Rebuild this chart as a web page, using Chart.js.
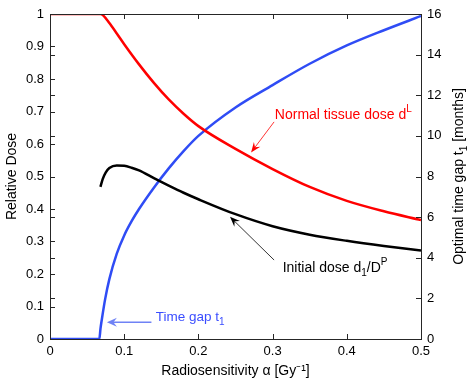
<!DOCTYPE html>
<html>
<head>
<meta charset="utf-8">
<script src="https://cdn.jsdelivr.net/npm/chart.js@4.4.1/dist/chart.umd.min.js"></script>
<style>
  html, body { margin: 0; padding: 0; background: #fff; }
  #wrap { width: 472px; height: 382px; }
</style>
</head>
<body>
<div id="wrap"><canvas id="c" width="472" height="382"></canvas></div>
<script>
// ---- data ----
const xTicks = [0, 0.1, 0.2, 0.3, 0.4, 0.5];
const leftTicks = [0, 0.1, 0.2, 0.3, 0.4, 0.5, 0.6, 0.7, 0.8, 0.9, 1];
const rightTicks = [0, 2, 4, 6, 8, 10, 12, 14, 16];

const normalAlpha = [0, 0.068, 0.072, 0.08, 0.09, 0.1, 0.12, 0.14, 0.16, 0.18, 0.2, 0.25, 0.3, 0.35, 0.4, 0.45, 0.5];
const normalDose  = [1, 1, 0.995, 0.972, 0.94, 0.907, 0.845, 0.788, 0.737, 0.693, 0.655, 0.585, 0.523, 0.468, 0.425, 0.393, 0.366];

const initAlpha = [0.068, 0.071, 0.075, 0.08, 0.09, 0.1, 0.11, 0.12, 0.14, 0.16, 0.18, 0.2, 0.25, 0.3, 0.35, 0.4, 0.45, 0.5];
const initDose  = [0.468, 0.492, 0.512, 0.526, 0.534, 0.533, 0.527, 0.519, 0.495, 0.472, 0.450, 0.430, 0.384, 0.347, 0.321, 0.302, 0.286, 0.272];

const gapAlpha  = [0, 0.0665, 0.068, 0.070, 0.0745, 0.08, 0.09, 0.1, 0.11, 0.12, 0.14, 0.16, 0.18, 0.2, 0.25, 0.3, 0.35, 0.4, 0.45, 0.5];
const gapMonths = [0, 0, 0.5, 1.0, 2.0, 2.95, 4.2, 5.1, 5.8, 6.4, 7.45, 8.4, 9.25, 10.0, 11.4, 12.5, 13.55, 14.45, 15.2, 15.9];

const pts = (xs, ys) => xs.map((x, i) => ({ x: x, y: ys[i] }));

const FONT = "'Liberation Sans', Arial, Helvetica, sans-serif";
const AXIS_COLOR = '#262626';
const TICK_SIZE = 13, TITLE_SIZE = 14;

// inward ticks, top border, right title, annotations
const decor = {
  id: 'decor',
  afterDatasetsDraw(chart) {
    const ctx = chart.ctx;
    const a = chart.chartArea;
    const sx = chart.scales.x, sy = chart.scales.y, sy1 = chart.scales.y1;
    ctx.save();
    ctx.strokeStyle = AXIS_COLOR;
    ctx.lineWidth = 1;
    ctx.beginPath();
    ctx.moveTo(a.left, a.top + 0.5); ctx.lineTo(a.right, a.top + 0.5);
    ctx.stroke();
    const TL = 5;
    ctx.beginPath();
    xTicks.forEach(v => {
      const px = Math.round(sx.getPixelForValue(v)) + 0.5;
      ctx.moveTo(px, a.bottom); ctx.lineTo(px, a.bottom - TL);
      ctx.moveTo(px, a.top); ctx.lineTo(px, a.top + TL);
    });
    leftTicks.forEach(v => {
      const py = Math.round(sy.getPixelForValue(v)) + 0.5;
      ctx.moveTo(a.left, py); ctx.lineTo(a.left + TL, py);
    });
    rightTicks.forEach(v => {
      const py = Math.round(sy1.getPixelForValue(v)) + 0.5;
      ctx.moveTo(a.right, py); ctx.lineTo(a.right - TL, py);
      ctx.moveTo(a.left, py); ctx.lineTo(a.left + TL, py);
    });
    ctx.stroke();

    // right axis title, rotated to read bottom-to-top
    ctx.fillStyle = '#000';
    ctx.translate(459, (a.top + a.bottom) / 2);
    ctx.rotate(-Math.PI / 2);
    drawRich(ctx, [['Optimal time gap t', 0], ['1', 1], [' [months]', 0]], 0, 0, TITLE_SIZE, 'center');
    ctx.restore();

    // annotations
    ctx.save();
    const X = v => sx.getPixelForValue(v), Y = v => sy.getPixelForValue(v);
    ctx.fillStyle = '#ff0000';
    drawRich(ctx, [['Normal tissue dose d', 0], ['L', -1]], X(0.303), Y(0.688), 14, 'left');
    arrow(ctx, X(0.302), Y(0.668), X(0.271), Y(0.574), '#ff0000', 0.8, 10, 4);
    ctx.fillStyle = '#000';
    drawRich(ctx, [['Initial dose d', 0], ['1', 1], ['/D', 0], ['P', -1]], X(0.3136), Y(0.218), 14, 'left');
    arrow(ctx, X(0.302), Y(0.243), X(0.2426), Y(0.376), '#000', 0.8, 10, 4);
    ctx.fillStyle = '#3a4dff';
    drawRich(ctx, [['Time gap t', 0], ['1', 1]], X(0.1425), Y(0.0677), 13.5, 'left');
    arrow(ctx, X(0.1367), Y(0.0514), X(0.0767), Y(0.0514), '#6f82f5', 1.5, 10, 4.5);
    ctx.restore();
  }
};

function drawRich(ctx, parts, x, y, size, align) {
  const big = size + 'px ' + FONT, small = Math.round(size * 0.72) + 'px ' + FONT;
  let w = 0;
  parts.forEach(p => { ctx.font = p[1] ? small : big; w += ctx.measureText(p[0]).width; });
  let cx = align === 'center' ? x - w / 2 : x;
  ctx.textBaseline = 'middle';
  ctx.textAlign = 'left';
  parts.forEach(p => {
    ctx.font = p[1] ? small : big;
    const dy = p[1] === 1 ? size * 0.38 : (p[1] === -1 ? -size * 0.42 : 0);
    ctx.fillText(p[0], cx, y + dy);
    cx += ctx.measureText(p[0]).width;
  });
}

function arrow(ctx, x0, y0, x1, y1, color, lw, hl, hw) {
  const ang = Math.atan2(y1 - y0, x1 - x0);
  const c = Math.cos(ang), s = Math.sin(ang);
  ctx.strokeStyle = color; ctx.fillStyle = color; ctx.lineWidth = lw;
  ctx.beginPath();
  ctx.moveTo(x0, y0);
  ctx.lineTo(x1 - c * hl * 0.6, y1 - s * hl * 0.6);
  ctx.stroke();
  const bx = x1 - c * hl, by = y1 - s * hl;
  const nx = x1 - c * hl * 0.65, ny = y1 - s * hl * 0.65;
  ctx.beginPath();
  ctx.moveTo(x1, y1);
  ctx.lineTo(bx - s * hw, by + c * hw);
  ctx.lineTo(nx, ny);
  ctx.lineTo(bx + s * hw, by - c * hw);
  ctx.closePath();
  ctx.fill();
}

new Chart(document.getElementById('c'), {
  type: 'line',
  data: {
    datasets: [
      { label: 'Normal tissue dose', data: pts(normalAlpha, normalDose), yAxisID: 'y',
        borderColor: '#ff0000', borderWidth: 2.5, pointRadius: 0, cubicInterpolationMode: 'monotone', fill: false },
      { label: 'Initial dose', data: pts(initAlpha, initDose), yAxisID: 'y',
        borderColor: '#000000', borderWidth: 2.5, pointRadius: 0, cubicInterpolationMode: 'monotone', fill: false },
      { label: 'Time gap', data: pts(gapAlpha, gapMonths), yAxisID: 'y1',
        borderColor: '#2f4cf5', borderWidth: 2.5, pointRadius: 0, cubicInterpolationMode: 'monotone', fill: false }
    ]
  },
  options: {
    responsive: false,
    animation: false,
    devicePixelRatio: 1,
    layout: { padding: { top: 14, left: 0, right: 0, bottom: 0 } },
    plugins: { legend: { display: false }, tooltip: { enabled: false } },
    scales: {
      x: {
        type: 'linear', min: 0, max: 0.5,
        afterBuildTicks: s => { s.ticks = xTicks.map(v => ({ value: v })); },
        afterFit: s => { s.height = 43; },
        grid: { display: false, drawTicks: false },
        border: { display: true, color: AXIS_COLOR, width: 1 },
        ticks: { color: '#000', padding: 5, font: { family: FONT, size: TICK_SIZE }, maxRotation: 0,
                 callback: v => String(v) },
        title: { display: true, text: 'Radiosensitivity α [Gy⁻¹]', color: '#000',
                 font: { family: FONT, size: TITLE_SIZE }, padding: { top: 0, bottom: 2 } }
      },
      y: {
        type: 'linear', position: 'left', min: 0, max: 1,
        afterBuildTicks: s => { s.ticks = leftTicks.map(v => ({ value: v })); },
        afterFit: s => { s.width = 50; },
        grid: { display: false, drawTicks: false },
        border: { display: true, color: AXIS_COLOR, width: 1 },
        ticks: { color: '#000', padding: 6, font: { family: FONT, size: TICK_SIZE }, callback: v => String(v) },
        title: { display: true, text: 'Relative Dose', color: '#000',
                 font: { family: FONT, size: TITLE_SIZE }, padding: { top: 4, bottom: 0 } }
      },
      y1: {
        type: 'linear', position: 'right', min: 0, max: 16,
        afterBuildTicks: s => { s.ticks = rightTicks.map(v => ({ value: v })); },
        afterFit: s => { s.width = 51; },
        grid: { display: false, drawTicks: false },
        border: { display: true, color: AXIS_COLOR, width: 1 },
        ticks: { color: '#000', padding: 6, font: { family: FONT, size: TICK_SIZE }, callback: v => String(v) },
        title: { display: false, text: 'Optimal time gap t₁ [months]' }
      }
    }
  },
  plugins: [decor]
});
</script>
</body>
</html>
